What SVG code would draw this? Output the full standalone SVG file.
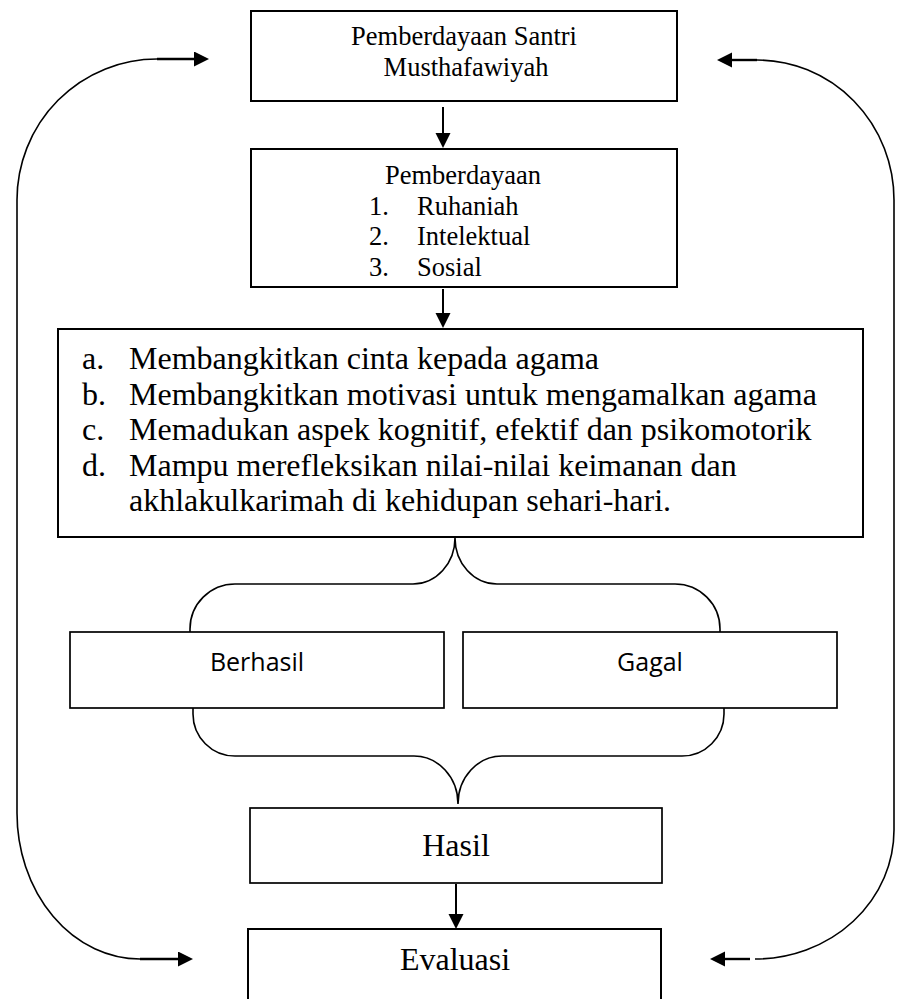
<svg xmlns="http://www.w3.org/2000/svg" width="897" height="999" viewBox="0 0 897 999">
<style>
.box{fill:#fff;stroke:#000;stroke-width:2}
.sbox{fill:#fff;stroke:#000;stroke-width:1.7}
.serif{font-family:"Liberation Serif","Times New Roman",serif;fill:#000}
.sans{font-family:"Open Sans","Noto Sans",sans-serif;fill:#000}
.thin{fill:none;stroke:#000;stroke-width:1.6}
.shaft{fill:none;stroke:#000;stroke-width:2.4}
.v{fill:none;stroke:#000;stroke-width:2}
</style>
<defs>
<marker id="ah" markerUnits="userSpaceOnUse" markerWidth="16" markerHeight="16" refX="0" refY="7.5" orient="auto" viewBox="0 0 16 16">
<path d="M0,0 L15,7.5 L0,15 z" fill="#000"/>
</marker>
</defs>
<g id="connectors">
<path class="thin" d="M 190 660 L 190 629 A 45 45 0 0 1 235 584 L 413 584 A 42 46 0 0 0 455 538 A 42 46 0 0 0 497 584 L 675 584 A 45 45 0 0 1 720 629 L 720 660"/>
<path class="thin" d="M 193 690 L 193 714 A 42 42 0 0 0 235 756 L 414 756 A 44 48 0 0 1 458 804 A 44 48 0 0 1 502 756 L 682 756 A 42 42 0 0 0 724 714 L 724 690"/>
<path class="thin" d="M 157 59 A 140 141 0 0 0 17 200 L 17 813 A 123 146 0 0 0 140 959"/>
<path class="shaft" d="M 157 59 L 194 59" marker-end="url(#ah)"/>
<path class="shaft" d="M 140 959 L 178 959" marker-end="url(#ah)"/>
<path class="thin" d="M 757 60 A 137 140 0 0 1 894 200 L 894 830 A 139 129 0 0 1 755 959"/>
<path class="shaft" d="M 757 60 L 732 60" marker-end="url(#ah)"/>
<path class="shaft" d="M 750 959 L 725 959" marker-end="url(#ah)"/>
<path class="v" d="M 443 107 L 443 133" marker-end="url(#ah)"/>
<path class="v" d="M 443 289 L 443 313" marker-end="url(#ah)"/>
<path class="v" d="M 456 884 L 456 914" marker-end="url(#ah)"/>
</g>
<g id="node-santri">
<rect class="box" x="251" y="11" width="426" height="90"/>
<text class="serif" font-size="26.5" text-anchor="middle" x="464" y="45">Pemberdayaan Santri</text>
<text class="serif" font-size="26.5" text-anchor="middle" x="466" y="76">Musthafawiyah</text>
</g>
<g id="node-pemberdayaan">
<rect class="box" x="251" y="149" width="426" height="138"/>
<text class="serif" font-size="26.5" text-anchor="middle" x="463" y="184">Pemberdayaan</text>
<text class="serif" font-size="26.5" x="369" y="214.5">1.</text>
<text class="serif" font-size="26.5" x="417" y="214.5">Ruhaniah</text>
<text class="serif" font-size="26.5" x="369" y="245">2.</text>
<text class="serif" font-size="26.5" x="417" y="245">Intelektual</text>
<text class="serif" font-size="26.5" x="369" y="275.5">3.</text>
<text class="serif" font-size="26.5" x="417" y="275.5">Sosial</text>
</g>
<g id="node-tujuan">
<rect class="box" x="58" y="329" width="805" height="208"/>
<text class="serif" font-size="32" x="82" y="369">a.</text>
<text class="serif" font-size="32" x="129" y="369">Membangkitkan cinta kepada agama</text>
<text class="serif" font-size="32" x="82" y="404.5">b.</text>
<text class="serif" font-size="32" x="129" y="404.5">Membangkitkan motivasi untuk mengamalkan agama</text>
<text class="serif" font-size="32" x="82" y="440">c.</text>
<text class="serif" font-size="32" x="129" y="440">Memadukan aspek kognitif, efektif dan psikomotorik</text>
<text class="serif" font-size="32" x="82" y="475.5">d.</text>
<text class="serif" font-size="32" x="129" y="475.5">Mampu merefleksikan nilai-nilai keimanan dan</text>
<text class="serif" font-size="32" x="129" y="511">akhlakulkarimah di kehidupan sehari-hari.</text>
</g>
<g id="node-berhasil">
<rect class="sbox" x="70" y="632" width="374" height="76"/>
<text class="sans" font-size="25" text-anchor="middle" x="257" y="671">Berhasil</text>
</g>
<g id="node-gagal">
<rect class="sbox" x="463" y="632" width="374" height="76"/>
<text class="sans" font-size="25" text-anchor="middle" x="650" y="671">Gagal</text>
</g>
<g id="node-hasil">
<rect class="sbox" x="250" y="808" width="412" height="75"/>
<text class="serif" font-size="32" text-anchor="middle" x="456" y="856">Hasil</text>
</g>
<g id="node-evaluasi">
<rect class="box" x="248" y="929" width="413" height="90"/>
<text class="serif" font-size="32" text-anchor="middle" x="455" y="970">Evaluasi</text>
</g>
</svg>
